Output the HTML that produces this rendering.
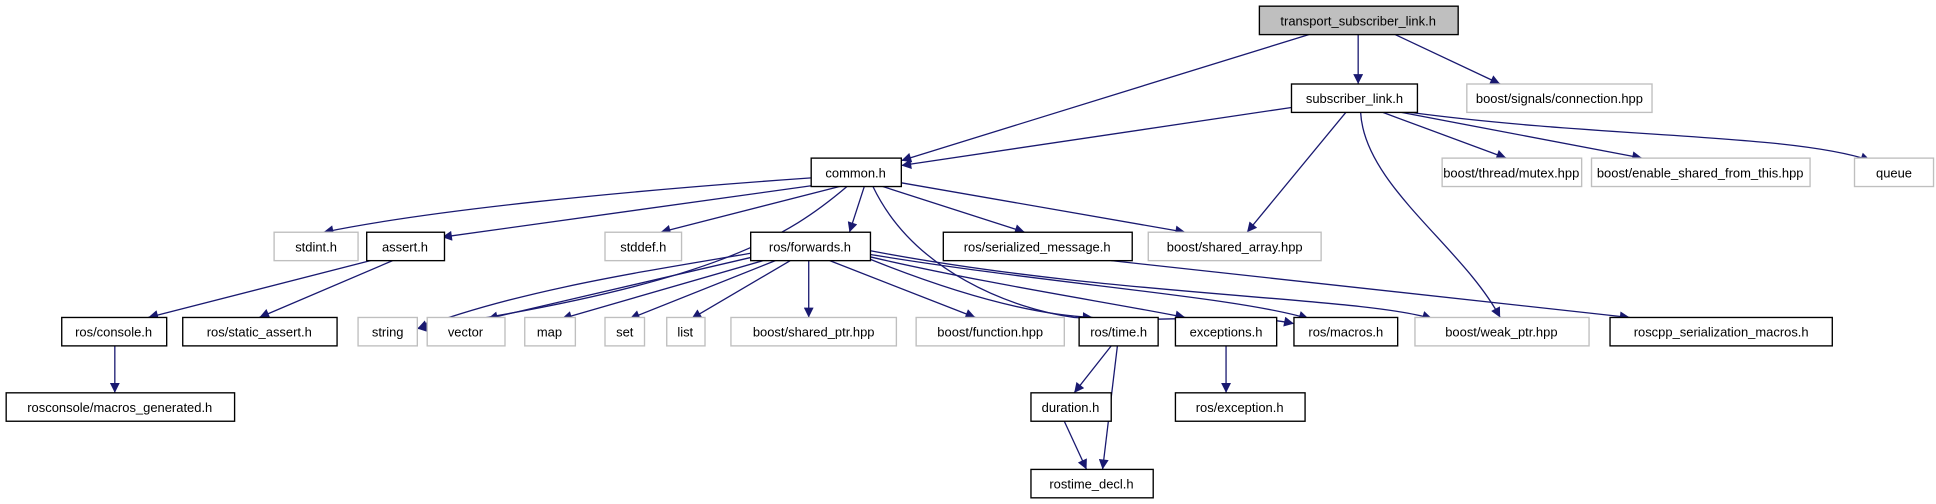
<!DOCTYPE html>
<html><head><meta charset="utf-8"><style>
html,body{margin:0;padding:0;background:#fff}
svg{display:block}
text{font-family:"Liberation Sans",sans-serif;font-size:10.5px;fill:#000;text-anchor:middle}
.b{fill:#fff;stroke:#000;stroke-width:1.1}
.g{fill:#fff;stroke:#bfbfbf;stroke-width:1.1}
.e{fill:none;stroke:#191970;stroke-width:1.05;marker-end:url(#a)}
</style></head><body>
<svg width="1936" height="504" viewBox="0 0 1568 408" preserveAspectRatio="none">
<defs><marker id="a" viewBox="0 0 10 10" refX="10" refY="5" markerWidth="9" markerHeight="8" markerUnits="userSpaceOnUse" orient="auto"><path d="M0,0 L10,5 L0,10 z" fill="#191970"/></marker></defs>
<g>
<path class="e" d="M1100,28 L1100,68"/>
<path class="e" d="M1060,28 L730,130"/>
<path class="e" d="M1130,28 L1215,68"/>
<path class="e" d="M1046,87 L730,134"/>
<path class="e" d="M1090,91 L1010,188"/>
<path class="e" d="M1102,91 C1105,150 1185,200 1215,257"/>
<path class="e" d="M1120,91 L1220,128"/>
<path class="e" d="M1135,91 L1330,128"/>
<path class="e" d="M1142,91 C1300,112 1450,108 1515,130"/>
<path class="e" d="M657,144 C500,155 350,170 262,188"/>
<path class="e" d="M660,150 L358,192"/>
<path class="e" d="M680,151 L535,188"/>
<path class="e" d="M686,151 C640,190 580,230 338,266"/>
<path class="e" d="M700,151 L688,188"/>
<path class="e" d="M707,151 C740,220 820,250 870,257 C950,262 1000,252 1048,262"/>
<path class="e" d="M715,151 L830,188"/>
<path class="e" d="M730,148 L960,188"/>
<path class="e" d="M300,211 L120,257"/>
<path class="e" d="M318,211 L210,257"/>
<path class="e" d="M608,205 C520,220 420,235 338,266"/>
<path class="e" d="M610,208 L395,258"/>
<path class="e" d="M618,211 L455,258"/>
<path class="e" d="M628,211 L510,258"/>
<path class="e" d="M640,211 L560,258"/>
<path class="e" d="M655,211 L655,257"/>
<path class="e" d="M672,211 L790,257"/>
<path class="e" d="M705,210 C780,240 840,255 885,257"/>
<path class="e" d="M705,208 C800,230 900,245 960,257"/>
<path class="e" d="M705,206 C850,230 1000,240 1060,258"/>
<path class="e" d="M705,203 C900,240 1100,240 1160,258"/>
<path class="e" d="M900,211 L1320,257"/>
<path class="e" d="M93,280 L93,318"/>
<path class="e" d="M900,280 L870,318"/>
<path class="e" d="M905,280 L893,380"/>
<path class="e" d="M862,341 L880,380"/>
<path class="e" d="M993,280 L993,318"/>
</g>
<g>
<rect x="1020" y="5" width="161" height="23" fill="#bfbfbf" stroke="#000" stroke-width="1.1"/><text x="1100" y="20.5">transport_subscriber_link.h</text>
<rect class="b" x="1046" y="68" width="102" height="23"/><text x="1097" y="83.5">subscriber_link.h</text>
<rect class="g" x="1188" y="68" width="150" height="23"/><text x="1263" y="83.5">boost/signals/connection.hpp</text>
<rect class="b" x="657" y="128" width="73" height="23"/><text x="693" y="143.5">common.h</text>
<rect class="g" x="1168" y="128" width="113" height="23"/><text x="1224" y="143.5">boost/thread/mutex.hpp</text>
<rect class="g" x="1289" y="128" width="177" height="23"/><text x="1377" y="143.5">boost/enable_shared_from_this.hpp</text>
<rect class="g" x="1502" y="128" width="64" height="23"/><text x="1534" y="143.5">queue</text>
<rect class="g" x="222" y="188" width="68" height="23"/><text x="256" y="203.5">stdint.h</text>
<rect class="b" x="297" y="188" width="63" height="23"/><text x="328" y="203.5">assert.h</text>
<rect class="g" x="490" y="188" width="62" height="23"/><text x="521" y="203.5">stddef.h</text>
<rect class="b" x="608" y="188" width="97" height="23"/><text x="656" y="203.5">ros/forwards.h</text>
<rect class="b" x="764" y="188" width="153" height="23"/><text x="840" y="203.5">ros/serialized_message.h</text>
<rect class="g" x="930" y="188" width="140" height="23"/><text x="1000" y="203.5">boost/shared_array.hpp</text>
<rect class="b" x="50" y="257" width="85" height="23"/><text x="92" y="272.5">ros/console.h</text>
<rect class="b" x="148" y="257" width="125" height="23"/><text x="210" y="272.5">ros/static_assert.h</text>
<rect class="g" x="290" y="257" width="48" height="23"/><text x="314" y="272.5">string</text>
<rect class="g" x="346" y="257" width="63" height="23"/><text x="377" y="272.5">vector</text>
<rect class="g" x="425" y="257" width="41" height="23"/><text x="445" y="272.5">map</text>
<rect class="g" x="490" y="257" width="32" height="23"/><text x="506" y="272.5">set</text>
<rect class="g" x="540" y="257" width="31" height="23"/><text x="555" y="272.5">list</text>
<rect class="g" x="592" y="257" width="134" height="23"/><text x="659" y="272.5">boost/shared_ptr.hpp</text>
<rect class="g" x="742" y="257" width="120" height="23"/><text x="802" y="272.5">boost/function.hpp</text>
<rect class="b" x="874" y="257" width="64" height="23"/><text x="906" y="272.5">ros/time.h</text>
<rect class="b" x="952" y="257" width="82" height="23"/><text x="993" y="272.5">exceptions.h</text>
<rect class="b" x="1048" y="257" width="84" height="23"/><text x="1090" y="272.5">ros/macros.h</text>
<rect class="g" x="1146" y="257" width="141" height="23"/><text x="1216" y="272.5">boost/weak_ptr.hpp</text>
<rect class="b" x="1304" y="257" width="180" height="23"/><text x="1394" y="272.5">roscpp_serialization_macros.h</text>
<rect class="b" x="5" y="318" width="185" height="23"/><text x="97" y="333.5">rosconsole/macros_generated.h</text>
<rect class="b" x="835" y="318" width="65" height="23"/><text x="867" y="333.5">duration.h</text>
<rect class="b" x="952" y="318" width="105" height="23"/><text x="1004" y="333.5">ros/exception.h</text>
<rect class="b" x="835" y="380" width="99" height="23"/><text x="884" y="395.5">rostime_decl.h</text>
</g>
</svg>
</body></html>
